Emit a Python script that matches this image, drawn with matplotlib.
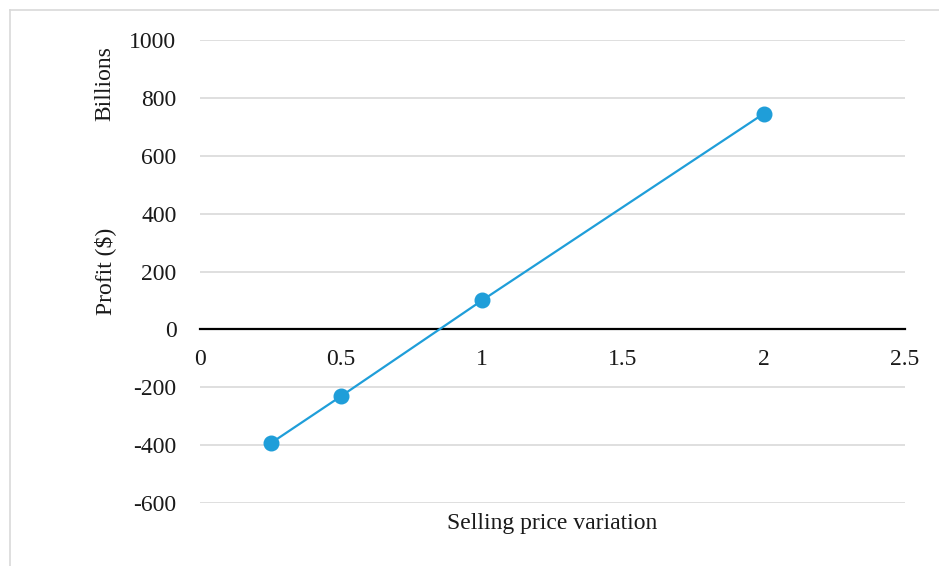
import matplotlib.pyplot as plt
from matplotlib.lines import Line2D

# data (profit in billions of $)
price_var = [0.25, 0.5, 1, 2]
profit = [-394, -231, 100, 746]
yticks = [-600, -400, -200, 0, 200, 400, 600, 800, 1000]
xticks = [0, 0.5, 1, 1.5, 2, 2.5]
xtick_labels = ['0', '0.5', '1', '1.5', '2', '2.5']

plt.rcParams['font.family'] = ['Liberation Serif', 'DejaVu Serif']

fig = plt.figure(figsize=(9.39, 5.66), dpi=100)
W, H = 939, 566
ax = fig.add_axes([200 / W, 1 - 503 / H, 705 / W, 463 / H])

ax.plot(price_var, profit, color='#1f9ed9', lw=1.6, marker='o', ms=10.5, zorder=3)

for s in ['left', 'right', 'top']:
    ax.spines[s].set_visible(False)
ax.spines['bottom'].set_position(('data', 0))
ax.spines['bottom'].set_color('black')
ax.spines['bottom'].set_linewidth(1.6)
ax.spines['bottom'].set_zorder(2)

ax.set_xlim(0, 2.5)
ax.set_ylim(-600, 1000)
ax.set_yticks(yticks)
ax.set_yticklabels([str(v) for v in yticks])
ax.set_xticks(xticks)
ax.set_xticklabels(xtick_labels)

ax.grid(axis='y', color='#d9d9d9', lw=1.2)
ax.set_axisbelow(True)
ax.tick_params(axis='both', length=0, labelsize=17, labelcolor='#1a1a1a')
ax.tick_params(axis='y', pad=17)
ax.tick_params(axis='x', pad=14)

fig.text(552 / W, 1 - 523 / H, 'Selling price variation', fontsize=17,
         ha='center', va='center', color='#1a1a1a')
fig.text(105 / W, 1 - 271 / H, 'Profit ($)', fontsize=17, rotation=90,
         ha='center', va='center', color='#1a1a1a')
fig.text(105 / W, 1 - 84 / H, 'Billions', fontsize=17, rotation=90,
         ha='center', va='center', color='#1a1a1a')

# chart-area border (left and top edges visible)
fig.add_artist(Line2D([10 / W, 10 / W], [0, 1 - 10 / H], color='#d9d9d9', lw=1.2))
fig.add_artist(Line2D([10 / W, 1], [1 - 10 / H, 1 - 10 / H], color='#d9d9d9', lw=1.2))

fig.savefig('out.png', dpi=100)
